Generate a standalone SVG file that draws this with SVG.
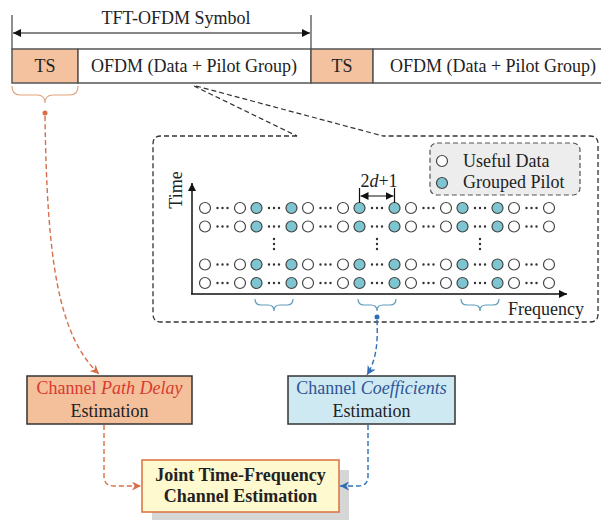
<svg xmlns="http://www.w3.org/2000/svg" xmlns:xlink="http://www.w3.org/1999/xlink" width="601" height="520" viewBox="0 0 601 520">
<style>
text{font-family:"Liberation Serif","Times New Roman",serif;font-size:18px;fill:#222}
.mid{text-anchor:middle}
.bar{stroke:#555;stroke-width:1.5}
.ts{fill:#F5C29F}
.od{fill:#fff}
.dc{fill:#fff;stroke:#444;stroke-width:1.2}
.pc{fill:#7DC5D0;stroke:#444;stroke-width:1.2}
.hd{stroke:#333;stroke-width:2.4;stroke-linecap:round;stroke-dasharray:0 5}
.orc{fill:none;stroke:#D66F47;stroke-width:1.4;stroke-dasharray:5 3}
.blc{fill:none;stroke:#2F6DB5;stroke-width:1.4;stroke-dasharray:5 3}
.brO{fill:none;stroke:#E3A27A;stroke-width:1.2}
.brB{fill:none;stroke:#5E9DBB;stroke-width:1.2}
.box{stroke:#333;stroke-width:1.5}
.red{fill:#D93A2E}
.blu{fill:#2E5597}
</style>
<defs>
<marker id="ab" viewBox="0 0 10 10" refX="10" refY="5" markerWidth="8" markerHeight="8" markerUnits="userSpaceOnUse" orient="auto-start-reverse"><path d="M0,0 L10,5 L0,10 Z" fill="#111"/></marker>
<marker id="ao" viewBox="0 0 10 10" refX="10" refY="5" markerWidth="9" markerHeight="9" markerUnits="userSpaceOnUse" orient="auto"><path d="M0,0 L10,5 L0,10 L3,5 Z" fill="#D66F47"/></marker>
<marker id="abl" viewBox="0 0 10 10" refX="10" refY="5" markerWidth="9" markerHeight="9" markerUnits="userSpaceOnUse" orient="auto"><path d="M0,0 L10,5 L0,10 L3,5 Z" fill="#2F6DB5"/></marker>
<g id="row">
<line class="hd" x1="217.5" y1="0" x2="227.6" y2="0"/>
<line class="hd" x1="269" y1="0" x2="279.1" y2="0"/>
<line class="hd" x1="320.5" y1="0" x2="330.6" y2="0"/>
<line class="hd" x1="372" y1="0" x2="382.1" y2="0"/>
<line class="hd" x1="423.5" y1="0" x2="433.6" y2="0"/>
<line class="hd" x1="475" y1="0" x2="485.1" y2="0"/>
<line class="hd" x1="526.5" y1="0" x2="536.6" y2="0"/>
<circle class="dc" cx="205" cy="0" r="5.5"/>
<circle class="dc" cx="240" cy="0" r="5.5"/>
<circle class="pc" cx="256.5" cy="0" r="5.5"/>
<circle class="pc" cx="291.5" cy="0" r="5.5"/>
<circle class="dc" cx="308" cy="0" r="5.5"/>
<circle class="dc" cx="343" cy="0" r="5.5"/>
<circle class="pc" cx="359.5" cy="0" r="5.5"/>
<circle class="pc" cx="394.5" cy="0" r="5.5"/>
<circle class="dc" cx="411" cy="0" r="5.5"/>
<circle class="dc" cx="446" cy="0" r="5.5"/>
<circle class="pc" cx="462.5" cy="0" r="5.5"/>
<circle class="pc" cx="497.5" cy="0" r="5.5"/>
<circle class="dc" cx="514" cy="0" r="5.5"/>
<circle class="dc" cx="549" cy="0" r="5.5"/>
</g>
<path id="brace" d="M-19,0 Q-19,6 -13,6 L-6,6 Q0,6 0,12 Q0,6 6,6 L13,6 Q19,6 19,0"/>
</defs>

<g id="symbol-frame">
<text class="mid" x="176" y="24">TFT-OFDM Symbol</text>
<line x1="12" y1="15" x2="12" y2="49" stroke="#444" stroke-width="1.2"/>
<line x1="311" y1="15" x2="311" y2="49" stroke="#444" stroke-width="1.2"/>
<line x1="13" y1="33" x2="310" y2="33" stroke="#111" stroke-width="1.2" marker-start="url(#ab)" marker-end="url(#ab)"/>
</g>

<g id="frame-bar">
<rect class="ts bar" x="12" y="49" width="66" height="34"/>
<rect class="od bar" x="78" y="49" width="233" height="34"/>
<rect class="ts bar" x="311" y="49" width="62" height="34"/>
<path class="bar" fill="#fff" d="M602,49 L373,49 L373,83 L602,83"/>
<text class="mid" x="45" y="72">TS</text>
<text class="mid" x="194" y="72">OFDM (Data + Pilot Group)</text>
<text class="mid" x="342" y="72">TS</text>
<text class="mid" x="493" y="72">OFDM (Data + Pilot Group)</text>
</g>

<g id="ts-brace">
<path class="brO" d="M12,86 Q12,95 20,95 L37,95 Q45,95 45,103 Q45,95 53,95 L70,95 Q78,95 78,86"/>
<circle cx="45" cy="113" r="2.5" fill="#D66F47"/>
</g>

<g id="zoom-callout">
<path fill="none" stroke="#333" stroke-width="1.2" stroke-dasharray="5 3" d="M194,86 L297,136 M196,86 L383,136"/>
<path fill="none" stroke="#333" stroke-width="1.3" stroke-dasharray="5 3" d="M297,136 L161,136 Q153,136 153,144 L153,314 Q153,322 161,322 L590,322 Q598,322 598,314 L598,144 Q598,136 590,136 L383,136"/>
</g>

<g id="legend">
<rect x="430" y="143" width="150" height="52" rx="7" fill="#EDEDED" stroke="#555" stroke-width="1.2" stroke-dasharray="5 3"/>
<circle class="dc" cx="442" cy="161" r="5.5"/>
<circle class="pc" cx="442" cy="183" r="5.5"/>
<text x="463" y="167">Useful Data</text>
<text x="463" y="188">Grouped Pilot</text>
</g>

<g id="grid">
<line x1="192" y1="294" x2="192" y2="183" stroke="#111" stroke-width="1.5" marker-end="url(#ab)"/>
<line x1="191" y1="294" x2="567" y2="294" stroke="#111" stroke-width="1.5" marker-end="url(#ab)"/>
<text transform="translate(182,190) rotate(-90)" class="mid">Time</text>
<text x="508" y="315">Frequency</text>
<use xlink:href="#row" y="208"/>
<use xlink:href="#row" y="226.5"/>
<use xlink:href="#row" y="264.5"/>
<use xlink:href="#row" y="283"/>
<line class="hd" x1="274" y1="239" x2="274" y2="254"/>
<line class="hd" x1="377" y1="239" x2="377" y2="254"/>
<line class="hd" x1="480" y1="239" x2="480" y2="254"/>
<text class="mid" x="379" y="187">2<tspan font-style="italic">d</tspan>+1</text>
<line x1="359.5" y1="188" x2="359.5" y2="203" stroke="#111" stroke-width="1.2"/>
<line x1="394.5" y1="188" x2="394.5" y2="203" stroke="#111" stroke-width="1.2"/>
<line x1="360.5" y1="196" x2="393.5" y2="196" stroke="#111" stroke-width="1.2" marker-start="url(#ab)" marker-end="url(#ab)"/>
<use xlink:href="#brace" class="brB" x="274" y="299"/>
<use xlink:href="#brace" class="brB" x="377" y="299"/>
<use xlink:href="#brace" class="brB" x="480" y="299"/>
<circle cx="377" cy="317" r="2.5" fill="#2F6DB5"/>
</g>

<g id="path-delay">
<rect class="box" x="27" y="376" width="165" height="48" fill="#F4C09C"/>
<text class="mid red" x="109.5" y="394">Channel <tspan font-style="italic">Path Delay</tspan></text>
<text class="mid" x="109.5" y="417">Estimation</text>
</g>

<g id="coefficients">
<rect class="box" x="288" y="376" width="167" height="48" fill="#CFE9F3"/>
<text class="mid blu" x="371.5" y="394">Channel <tspan font-style="italic">Coefficients</tspan></text>
<text class="mid" x="371.5" y="417">Estimation</text>
</g>

<g id="joint">
<rect x="152" y="470" width="197" height="52" fill="#D6D6D6"/>
<rect x="142" y="460" width="197" height="52" fill="#FFF9CF" stroke="#D9703F" stroke-width="1.5"/>
<text class="mid" x="240.5" y="481" font-weight="bold">Joint Time-Frequency</text>
<text class="mid" x="240.5" y="502" font-weight="bold">Channel Estimation</text>
</g>

<g id="connectors">
<path class="orc" d="M45,116 C47,260 58,335 99,374" marker-end="url(#ao)"/>
<path class="blc" d="M377,320 C378,345 376,360 367,375" marker-end="url(#abl)"/>
<path class="orc" d="M104,425 L104,476 Q104,486 114,486 L141,486" marker-end="url(#ao)"/>
<path class="blc" d="M368,425 L368,476 Q368,486 358,486 L340,486" marker-end="url(#abl)"/>
</g>
</svg>
